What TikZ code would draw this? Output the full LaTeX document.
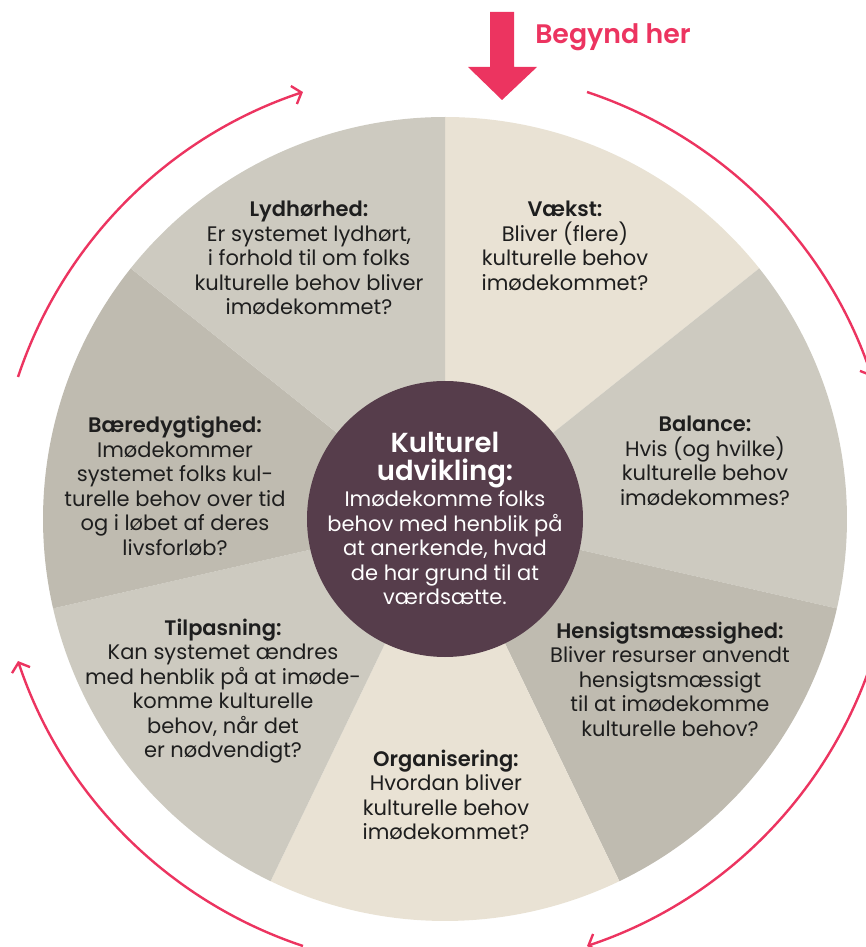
\documentclass[tikz,border=0pt]{standalone}
\usepackage{fontspec}
\setmainfont{Poppins}[BoldFont={Poppins SemiBold}]
\usetikzlibrary{arrows.meta,positioning}

\definecolor{wheelbeige}{HTML}{E9E2D4}
\definecolor{wheelgray}{HTML}{CDCAC0}
\definecolor{wheeldark}{HTML}{BFBBB0}
\definecolor{corepurple}{HTML}{563D4B}
\definecolor{signalpink}{HTML}{EC3460}
\definecolor{inktext}{HTML}{1E1E1E}

\begin{document}
\begin{tikzpicture}[x=1pt,y=1pt,>=Latex,
    question/.style={align=center,text=inktext,font=\fontsize{21}{24.5}\selectfont},
    core/.style={circle,fill=corepurple,minimum size=276pt,inner sep=0pt},
    corehead/.style={align=center,text=white,font=\fontsize{27.5}{28}\selectfont\bfseries},
    corebody/.style={align=center,text=white,font=\fontsize{21}{24.5}\selectfont},
    turn/.style={draw=signalpink,line width=2.4pt,-{Straight Barb[length=8pt,width=19pt]}}]
    \useasboundingbox (-445,-428) rectangle (421,519);

    % wheel of seven sectors, clockwise from the top
    \foreach \i/\col in {0/wheelbeige,1/wheelgray,2/wheeldark,3/wheelbeige,4/wheelgray,5/wheeldark,6/wheelgray}
      \fill[\col] (0,0) -- (90-\i*51.4286:402) arc[start angle=90-\i*51.4286,delta angle=-51.4286,radius=402] -- cycle;

    \node[core] (core) at (0,0) {};
    \node[corehead] (head) at (0,59) {Kulturel\\udvikling:};
    \node[corebody] (body) at (0,-29) {Imødekomme folks\\behov med henblik på\\at anerkende, hvad\\de har grund til at\\værdsætte.};

    \node[question] (vaekst) at (120,273) {\textbf{Vækst:}\\Bliver (flere)\\kulturelle behov\\imødekommet?};
    \node[question] (balance) at (260,58) {\textbf{Balance:}\\Hvis (og hvilke)\\kulturelle behov\\imødekommes?};
    \node[question] (hensigt) at (225,-160) {\textbf{Hensigtsmæssighed:}\\Bliver resurser anvendt\\hensigtsmæssigt\\til at imødekomme\\kulturelle behov?};
    \node[question] (organ) at (1,-276) {\textbf{Organisering:}\\Hvordan bliver\\kulturelle behov\\imødekommet?};
    \node[question] (tilpas) at (-222,-172) {\textbf{Tilpasning:}\\Kan systemet ændres\\med henblik på at imøde-\\komme kulturelle\\behov, når det\\er nødvendigt?};
    \node[question] (baere) at (-270,33) {\textbf{Bæredygtighed:}\\Imødekommer\\systemet folks kul-\\turelle behov over tid\\og i løbet af deres\\livsforløb?};
    \node[question] (lydhor) at (-136,261) {\textbf{Lydhørhed:}\\Er systemet lydhørt,\\i forhold til om folks\\kulturelle behov bliver\\imødekommet?};

    % cycle arrows round the wheel
    \draw[turn] (161.6:450) arc[start angle=161.6,end angle=108.4,radius=450];
    \draw[turn] (71.6:450) arc[start angle=71.6,end angle=18.4,radius=450];
    \draw[turn] (-18.4:450) arc[start angle=-18.4,end angle=-71.6,radius=450];
    \draw[turn] (-108.4:450) arc[start angle=-108.4,end angle=-161.6,radius=450];

    % start marker
    \fill[signalpink] (45,507) -- (69,507) -- (69,452) -- (92,452) -- (57,419) -- (23,452) -- (45,452) -- cycle;
    \node[anchor=base,text=signalpink,font=\fontsize{26.8}{32}\selectfont\bfseries] (start) at (168,475) {Begynd her};
\end{tikzpicture}
\end{document}
